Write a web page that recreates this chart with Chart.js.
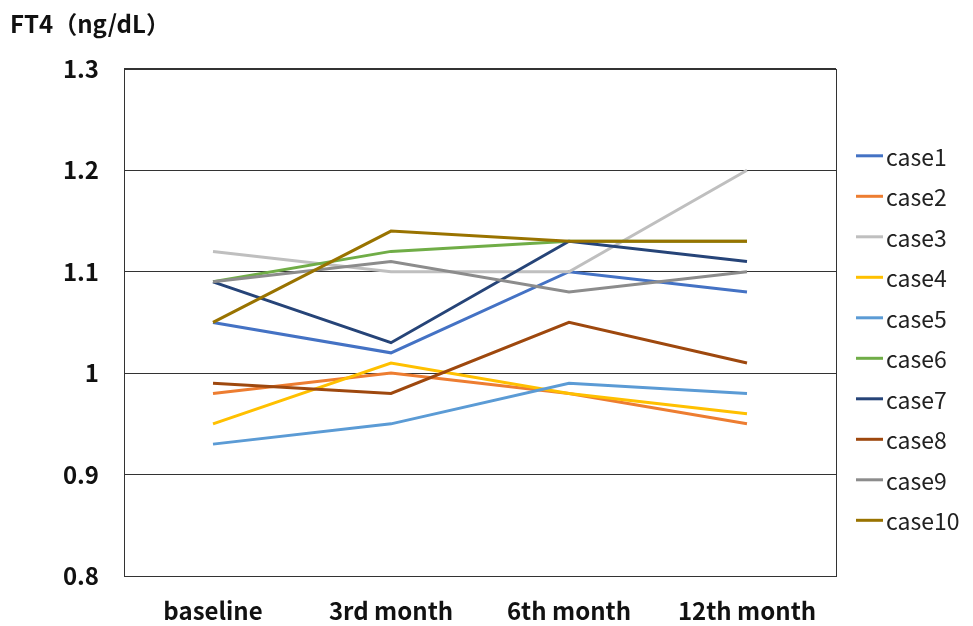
<!DOCTYPE html>
<html>
<head>
<meta charset="utf-8">
<script src="https://cdn.jsdelivr.net/npm/chart.js@4/dist/chart.umd.min.js"></script>
<style>
  html, body { margin: 0; padding: 0; background: #fff; overflow: hidden; }
</style>
</head>
<body>
<canvas id="grafico" width="973" height="626"></canvas>
<script>
var Meses = ["baseline", "3rd month", "6th month", "12th month"];
var Casos = ["case1", "case2", "case3", "case4", "case5", "case6", "case7", "case8", "case9", "case10"];
var Cores = ["#4472C4", "#ED7D31", "#BFBFBF", "#FFC000", "#5B9BD5", "#70AD47", "#264478", "#9E480E", "#8C8C8C", "#997300"];

var case1 = [1.05, 1.02, 1.10, 1.08];
var case2 = [0.98, 1.00, 0.98, 0.95];
var case3 = [1.12, 1.10, 1.10, 1.20];
var case4 = [0.95, 1.01, 0.98, 0.96];
var case5 = [0.93, 0.95, 0.99, 0.98];
var case6 = [1.09, 1.12, 1.13, 1.13];
var case7 = [1.09, 1.03, 1.13, 1.11];
var case8 = [0.99, 0.98, 1.05, 1.01];
var case9 = [1.09, 1.11, 1.08, 1.10];
var case10 = [1.05, 1.14, 1.13, 1.13];

var Valores = [case1, case2, case3, case4, case5, case6, case7, case8, case9, case10];
var Titulo = "FT4（ng/dL）";
var Fonte = "'Noto Sans CJK JP', 'Noto Sans', sans-serif";

var datasets = [];
for (var i = 0; i < Casos.length; i++) {
    datasets.push({
        label: Casos[i],
        data: Valores[i],
        borderColor: Cores[i],
        backgroundColor: Cores[i],
        borderWidth: 3,
        pointRadius: 0,
        tension: 0,
        fill: false,
        order: Casos.length - i
    });
}

// moldura da area do grafico + legenda a direita
var moldura = {
    id: 'moldura',
    afterDraw: function (chart) {
        var ctx = chart.ctx;
        var a = chart.chartArea;
        ctx.save();
        ctx.strokeStyle = "#333";
        ctx.lineWidth = 1;
        ctx.strokeRect(Math.round(a.left) + 0.5, Math.round(a.top) + 0.5,
            Math.round(a.right - a.left), Math.round(a.bottom - a.top));

        var x0 = a.right + 20;
        var y0 = a.top + 87;
        ctx.font = "23px " + Fonte;
        ctx.textBaseline = "middle";
        ctx.textAlign = "left";
        chart.data.datasets.forEach(function (ds, k) {
            var y = y0 + k * 40.5;
            ctx.strokeStyle = ds.borderColor;
            ctx.lineWidth = 3;
            ctx.beginPath();
            ctx.moveTo(x0, y);
            ctx.lineTo(x0 + 27, y);
            ctx.stroke();
            ctx.fillStyle = "#222";
            ctx.fillText(ds.label, x0 + 30, y + 1);
        });
        ctx.restore();
    }
};

new Chart(document.getElementById("grafico"), {
    type: 'line',
    data: {
        labels: Meses,
        datasets: datasets
    },
    options: {
        responsive: false,
        animation: false,
        layout: {
            padding: { left: 10, right: 137, top: 0, bottom: 0 }
        },
        plugins: {
            legend: { display: false },
            tooltip: { enabled: false },
            title: {
                display: true,
                text: Titulo,
                align: 'start',
                color: "#111",
                font: { family: Fonte, size: 24, weight: 'bold' },
                padding: { top: 9, bottom: 31 }
            }
        },
        scales: {
            x: {
                offset: true,
                grid: { display: false },
                border: { display: false },
                afterFit: function (scale) { scale.height = 50; },
                ticks: {
                    color: "#111",
                    padding: 12,
                    font: { family: Fonte, size: 24, weight: 'bold' }
                }
            },
            y: {
                min: 0.8,
                max: 1.3,
                afterFit: function (scale) { scale.width = 114; },
                grid: { color: "#333", lineWidth: 1, drawTicks: false },
                border: { display: false },
                ticks: {
                    stepSize: 0.1,
                    color: "#111",
                    padding: 25,
                    font: { family: Fonte, size: 24, weight: 'bold' },
                    callback: function (v) { return String(Math.round(v * 10) / 10); }
                }
            }
        }
    },
    plugins: [moldura]
});
</script>
</body>
</html>
